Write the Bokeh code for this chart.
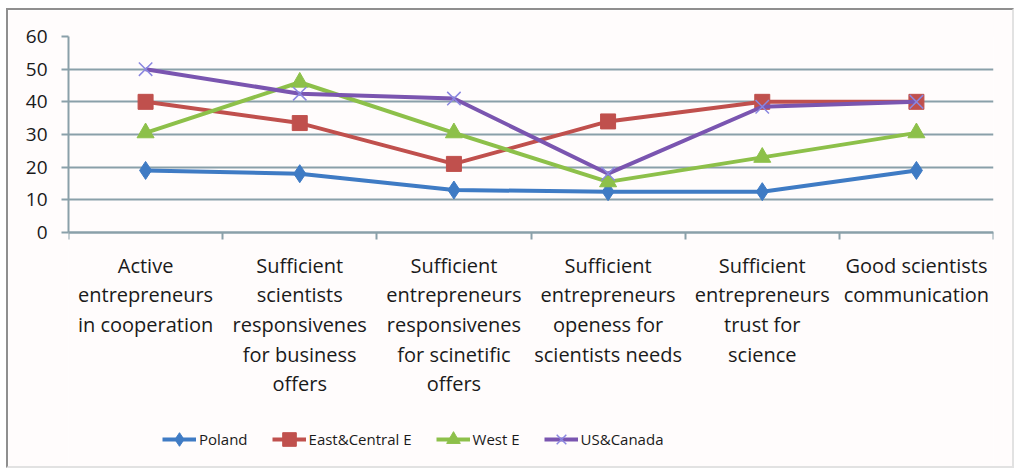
from bokeh.plotting import figure
from bokeh.models import FixedTicker, Legend, LegendItem, Range1d
from bokeh.embed import file_html
from bokeh.resources import INLINE

categories = [
    "Active\nentrepreneurs\nin cooperation",
    "Sufficient\nscientists\nresponsivenes\nfor business\noffers",
    "Sufficient\nentrepreneurs\nresponsivenes\nfor scinetific\noffers",
    "Sufficient\nentrepreneurs\nopeness for\nscientists needs",
    "Sufficient\nentrepreneurs\ntrust for\nscience",
    "Good scientists\ncommunication",
]
poland = [19, 18, 13, 12.5, 12.5, 19]
east_central = [40, 33.5, 21, 34, 40, 40]
west_e = [30.5, 46, 30.5, 15.5, 23, 30.5]
us_canada = [50, 42.5, 41, 18, 38.5, 40]
y_ticks = [0, 10, 20, 30, 40, 50, 60]

FONT = "Open Sans"
GRID = "#8aa0a9"
TEXT = "#1a1a1a"

# chart box (page pixels) and plotting area inside it
OX, OY = 8, 10
BOX_R, BOX_B = 1016, 470
PLOT_L, PLOT_R, PLOT_T, PLOT_0, PLOT_B = 68, 993, 36, 232, 466

Y_MAX = 60
px_per_unit = (PLOT_0 - PLOT_T) / Y_MAX
y_start = -(PLOT_B - PLOT_0) / px_per_unit

x = [i + 0.5 for i in range(len(categories))]

p = figure(width=BOX_R - OX, height=BOX_B - OY, output_backend="svg",
           toolbar_location=None,
           x_range=Range1d(0, len(categories)), y_range=Range1d(y_start, Y_MAX),
           min_border_left=PLOT_L - OX, min_border_right=BOX_R - PLOT_R,
           min_border_top=PLOT_T - OY, min_border_bottom=BOX_B - PLOT_B,
           styles={"border-top": "2px solid #8f8f8f",
                   "border-left": "2px solid #8f8f8f",
                   "border-right": "2px solid #e2e2e2",
                   "border-bottom": "2px solid #e2e2e2",
                   "margin-left": "6px", "margin-top": "8px"})
p.background_fill_color = "#fffcfc"
p.border_fill_color = "#fffcfc"
p.outline_line_color = None

# value axis
p.yaxis.ticker = FixedTicker(ticks=y_ticks)
p.yaxis.bounds = (0, Y_MAX)
p.yaxis.axis_line_color = GRID
p.yaxis.axis_line_width = 2
p.yaxis.major_tick_line_color = GRID
p.yaxis.major_tick_line_width = 2
p.yaxis.major_tick_out = 7
p.yaxis.major_tick_in = 0
p.yaxis.minor_tick_line_color = None
p.yaxis.major_label_text_font = FONT
p.yaxis.major_label_text_font_size = "19px"
p.yaxis.major_label_text_color = TEXT
p.yaxis.major_label_standoff = 14

# category axis sits on y = 0; labels at centres, boundary ticks as minor ticks
p.xaxis.fixed_location = 0
p.xaxis.ticker = FixedTicker(ticks=x, minor_ticks=list(range(len(categories) + 1)))
p.xaxis.major_label_overrides = {xi: c for xi, c in zip(x, categories)}
p.xaxis.axis_line_color = GRID
p.xaxis.axis_line_width = 2
p.xaxis.major_tick_line_color = None
p.xaxis.major_tick_out = 0
p.xaxis.major_tick_in = 0
p.xaxis.minor_tick_line_color = GRID
p.xaxis.minor_tick_line_width = 2
p.xaxis.minor_tick_out = 7
p.xaxis.minor_tick_in = 0
p.xaxis.major_label_text_font = FONT
p.xaxis.major_label_text_font_size = "20px"
p.xaxis.major_label_text_color = TEXT
p.xaxis.major_label_text_line_height = 1.1
p.xaxis.major_label_standoff = 12

p.xgrid.grid_line_color = None
p.ygrid.ticker = FixedTicker(ticks=y_ticks)
p.ygrid.grid_line_color = GRID
p.ygrid.grid_line_width = 2

series = [
    ("Poland", poland, "#3f7bc4", "diamond", 18, "#3f7bc4", 1),
    ("East&Central E", east_central, "#c0504d", "square", 15, "#c0504d", 1),
    ("West E", west_e, "#8dc04a", "triangle", 17, "#8dc04a", 1),
    ("US&Canada", us_canada, "#7a55b0", "x", 19, "#8a86e0", 1.5),
]

items = []
for name, vals, color, marker, size, mcolor, mlw in series:
    ln = p.line(x, vals, line_color=color, line_width=4)
    sc = p.scatter(x, vals, marker=marker, size=size, fill_color=mcolor,
                   line_color=mcolor, line_width=mlw)
    items.append(LegendItem(label=name, renderers=[ln, sc]))

legend = Legend(items=items, orientation="horizontal",
                location=(162 - PLOT_L, PLOT_B - 456),
                glyph_width=34, glyph_height=34, label_standoff=3, spacing=24,
                padding=0, margin=0,
                label_text_font=FONT, label_text_font_size="15px",
                label_text_color=TEXT, border_line_color=None,
                background_fill_alpha=0)
p.add_layout(legend, "center")

open("out.html", "w").write(file_html(p, INLINE))
